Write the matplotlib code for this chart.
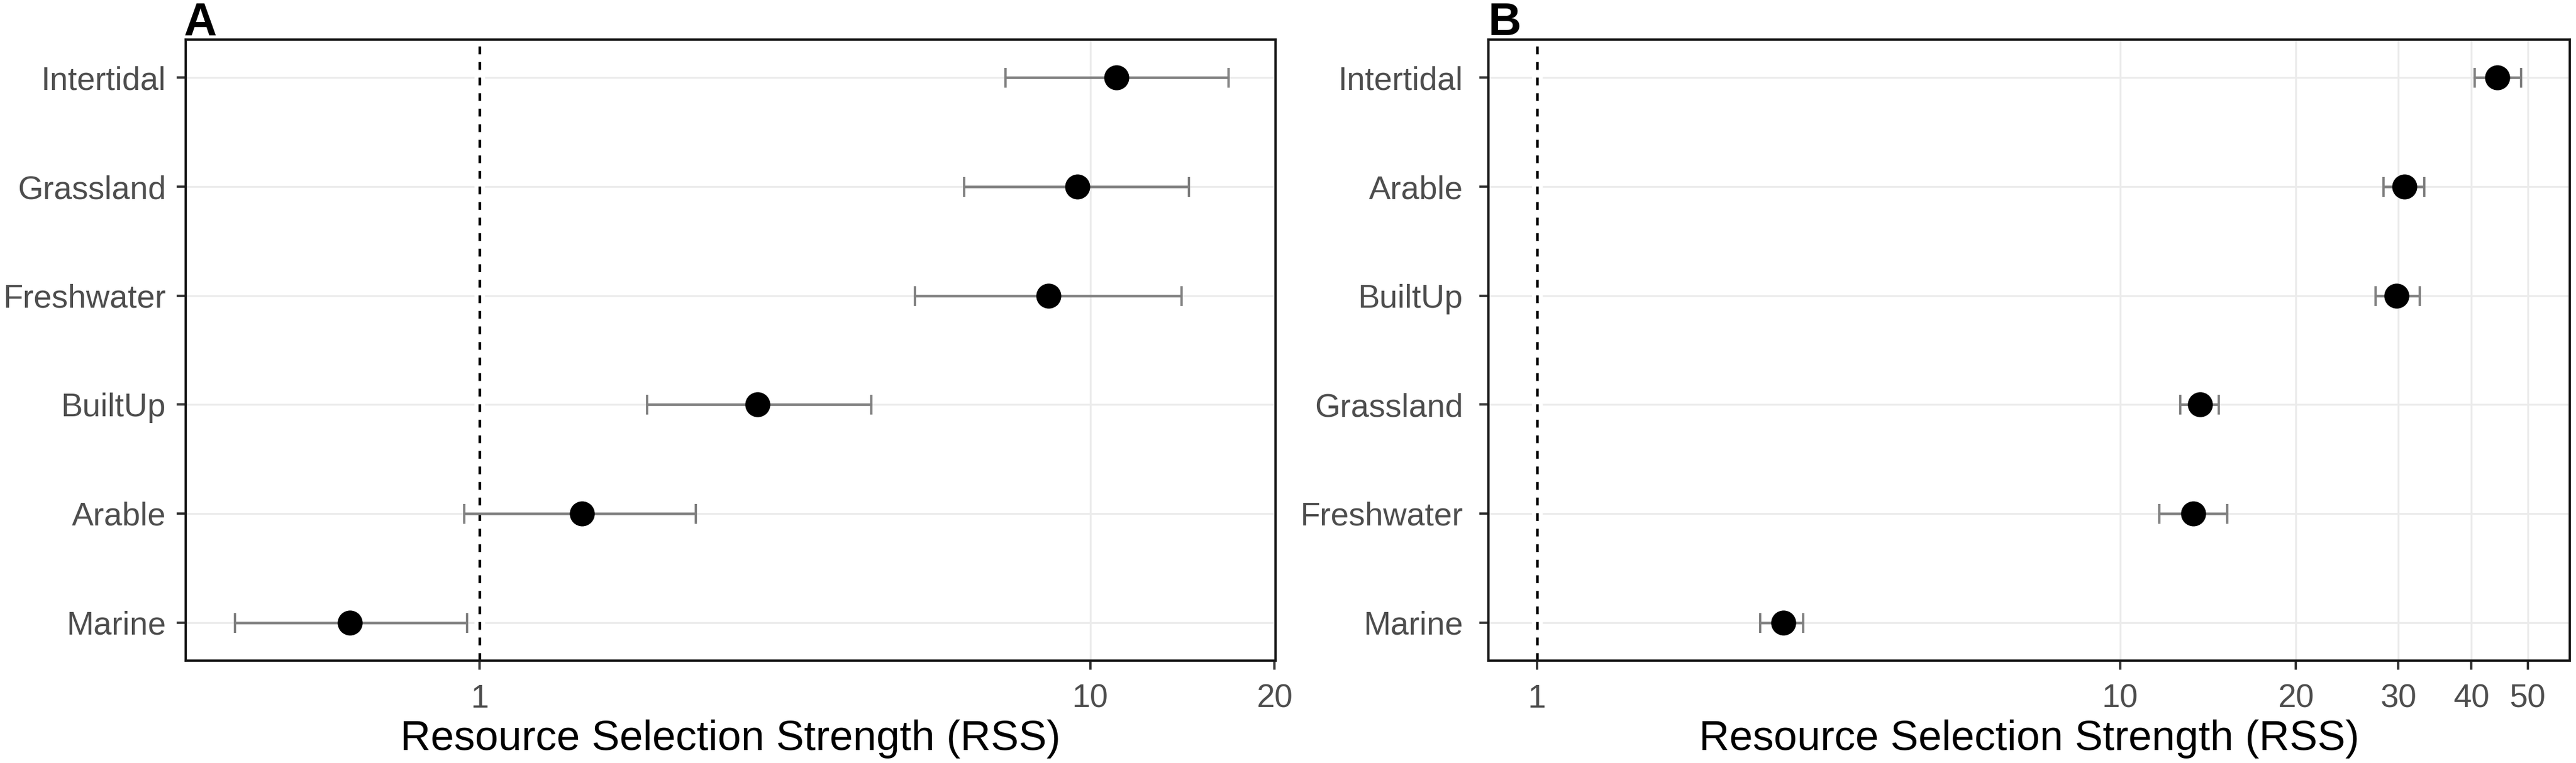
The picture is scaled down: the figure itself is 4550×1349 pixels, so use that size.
#!/usr/bin/env python
# -*- coding: utf-8 -*-

import numpy as np
import matplotlib
matplotlib.use( "Agg" )
import matplotlib.pyplot as plt
from matplotlib.ticker import FixedLocator, FixedFormatter, NullLocator

# panel A (bottom to top)
habitatsA = [ "Marine", "Arable", "BuiltUp", "Freshwater", "Grassland", "Intertidal" ]
rssA      = [ 0.613, 1.47, 2.85, 8.54, 9.52, 11.03 ]
lowA      = [ 0.397, 0.944, 1.88, 5.16, 6.21, 7.26 ]
highA     = [ 0.954, 2.26, 4.38, 14.1, 14.5, 16.84 ]
ticksA    = [ 1, 10, 20 ]

# panel B (bottom to top)
habitatsB = [ "Marine", "Freshwater", "Grassland", "BuiltUp", "Arable", "Intertidal" ]
rssB      = [ 2.645, 13.35, 13.7, 29.8, 30.7, 44.3 ]
lowB      = [ 2.41, 11.67, 12.68, 27.4, 28.3, 40.5 ]
highB     = [ 2.86, 15.26, 14.75, 32.6, 33.2, 48.7 ]
ticksB    = [ 1, 10, 20, 30, 40, 50 ]

plt.rcParams[ "font.family" ] = [ "Liberation Sans", "DejaVu Sans" ]

W, H = 4550, 1349
AX_TOP, AX_BOT = 70, 1168


def panel( ax, habitats, rss, low, high, ticks, xlim, ypad ):
    y = np.arange( 1, len( habitats ) + 1 )
    rss = np.array( rss )
    xerr = [ rss - np.array( low ), np.array( high ) - rss ]

    ax.set_xscale( "log" )
    ax.set_xlim( xlim )
    ax.set_ylim( 0.65, 6.35 )

    # grid (major only)
    for t in ticks:
        ax.axvline( t, color="#EBEBEB", lw=0.8, zorder=0 )
    for yy in y:
        ax.axhline( yy, color="#EBEBEB", lw=0.8, zorder=0 )

    # reference line at RSS = 1
    ax.axvline( 1, color="white", lw=4.5, zorder=1 )
    ax.axvline( 1, color="black", lw=1.1, dashes=( 3, 3 ), zorder=2 )

    ax.errorbar( rss, y, xerr=xerr, fmt="none", ecolor="#808080",
                 elinewidth=1.1, capsize=4.2, capthick=1.0, zorder=3 )
    ax.plot( rss, y, "o", color="black", markersize=9.6, zorder=4 )

    ax.xaxis.set_major_locator( FixedLocator( ticks ) )
    ax.xaxis.set_major_formatter( FixedFormatter( [ str( t ) for t in ticks ] ) )
    ax.xaxis.set_minor_locator( NullLocator() )
    ax.set_yticks( y )
    ax.set_yticklabels( habitats )

    ax.tick_params( axis="y", which="major", labelsize=13.8, labelcolor="#4D4D4D",
                    length=3.8, width=1.0, color="#333333", pad=ypad )
    ax.tick_params( axis="x", which="major", labelsize=13.8, labelcolor="#4D4D4D",
                    length=3.8, width=1.0, color="#333333", pad=6 )
    for s in ax.spines.values():
        s.set_linewidth( 1.0 )
        s.set_color( "#1A1A1A" )
    ax.set_xlabel( "Resource Selection Strength (RSS)", fontsize=17.8, color="black" )
    ax.xaxis.set_label_coords( 0.5, -( 1326 - AX_BOT ) / float( AX_BOT - AX_TOP ) )
    ax.xaxis.label.set_va( "baseline" )


def main():
    fig = plt.figure( figsize=( W / 300.0, H / 300.0 ), dpi=300 )

    axA = fig.add_axes( [ 328 / W, 1 - AX_BOT / H, ( 2253 - 328 ) / W, ( AX_BOT - AX_TOP ) / H ] )
    panel( axA, habitatsA, rssA, lowA, highA, ticksA, ( 0.33, 20.1 ), 4.6 )

    axB = fig.add_axes( [ 2629 / W, 1 - AX_BOT / H, ( 4539 - 2629 ) / W, ( AX_BOT - AX_TOP ) / H ] )
    panel( axB, habitatsB, rssB, lowB, highB, ticksB, ( 0.825, 59.0 ), 7 )

    fig.text( 325 / W, 1 - 62 / H, "A", fontsize=19.4, fontweight="bold", va="baseline" )
    fig.text( 2629 / W, 1 - 62 / H, "B", fontsize=19.4, fontweight="bold", va="baseline" )

    fig.savefig( "out.png", dpi=300, facecolor="white" )


if( __name__ == "__main__" ):
    main()
